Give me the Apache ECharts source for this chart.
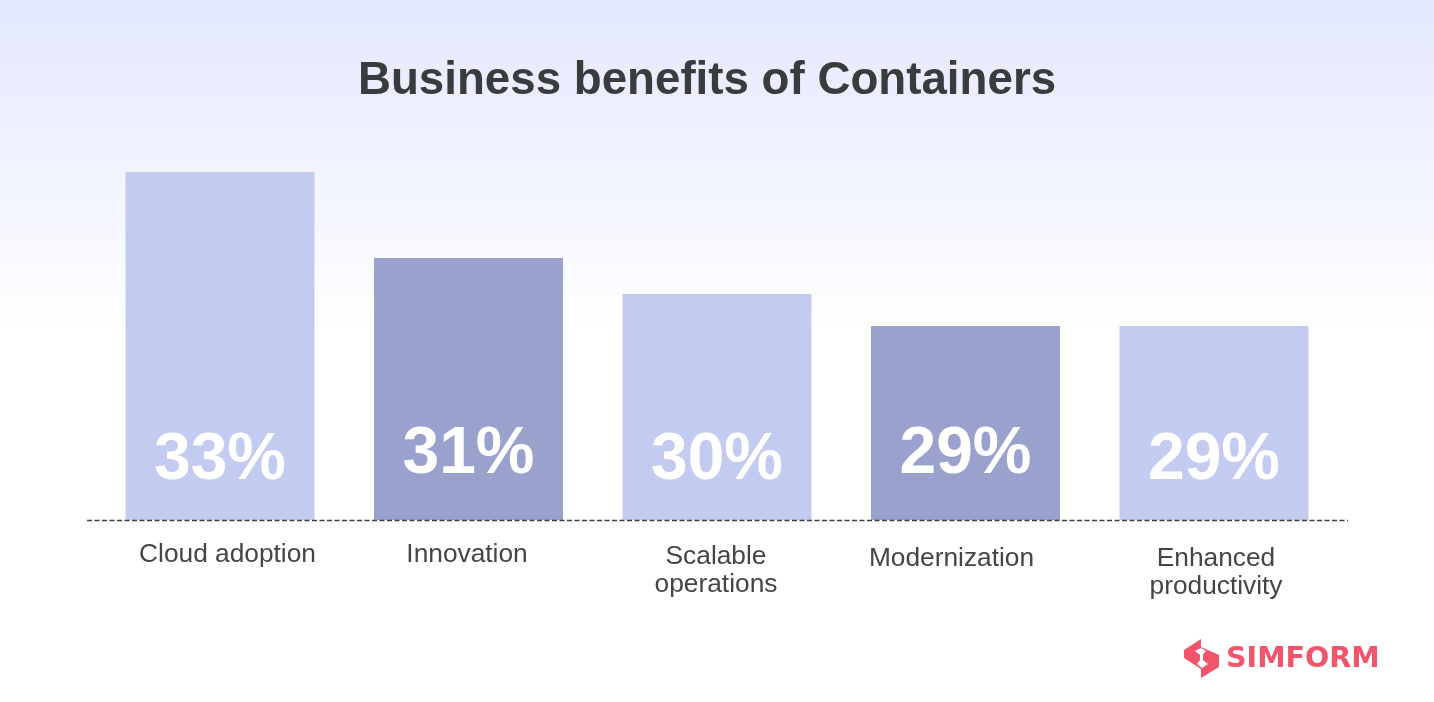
<!DOCTYPE html>
<html>
<head>
<meta charset="utf-8">
<title>Business benefits of Containers</title>
<script src="https://cdn.jsdelivr.net/npm/echarts@6/dist/echarts.min.js"></script>
<style>
html, body { margin: 0; padding: 0; background: #fff; }
#chart { width: 1434px; height: 702px; }
</style>
</head>
<body>
<div id="chart"></div>
<script>
var categories = ['Cloud adoption', 'Innovation', 'Scalable\noperations', 'Modernization', 'Enhanced\nproductivity'];
var percentLabels = ['33%', '31%', '30%', '29%', '29%'];
// the bars in the picture are not proportional to their percentages, so heights are read separately
var barHeights = [348, 262, 226, 194, 194];
var barColors = ['#c3cbf0', '#99a1cc', '#c3cbf0', '#99a1cc', '#c3cbf0'];
var labelOffsets = [0, 6, 0, 6, 0];
var categoryPadding = [[6, 0, 0, 15], [6, 3, 0, 0], [8, 2, 0, 0], [10, 28, 0, 0], [10, 0, 0, 4]];

var chart = echarts.init(document.getElementById('chart'));

var option = {
    animation: false,
    backgroundColor: {
        type: 'linear', x: 0, y: 0, x2: 0, y2: 1,
        colorStops: [
            { offset: 0, color: '#e3e8fd' },
            { offset: 0.22, color: '#f0f2fe' },
            { offset: 0.47, color: '#ffffff' },
            { offset: 1, color: '#ffffff' }
        ]
    },
    title: {
        text: 'Business benefits of Containers',
        left: 702,
        top: 53,
        textAlign: 'center',
        textStyle: { fontFamily: 'Liberation Sans', fontSize: 45.7, fontWeight: 700, color: '#3a3b3e' }
    },
    grid: { left: 95.75, width: 1242.5, top: 172, height: 348 },
    xAxis: {
        type: 'category',
        data: categories.map(function (c, i) {
            return {
                value: c,
                textStyle: { padding: categoryPadding[i] }
            };
        }),
        axisLine: { show: false },
        axisTick: { show: false },
        axisLabel: {
            interval: 0,
            margin: 15,
            fontFamily: 'Liberation Sans',
            fontSize: 26.3,
            lineHeight: 28,
            color: '#444548'
        }
    },
    yAxis: { type: 'value', min: 0, max: 348, show: false },
    series: [{
        type: 'bar',
        barWidth: 189,
        data: barHeights.map(function (h, i) {
            return {
                value: h,
                itemStyle: { color: barColors[i] },
                label: { offset: [0, -labelOffsets[i]], formatter: percentLabels[i] }
            };
        }),
        label: {
            show: true,
            position: 'insideBottom',
            distance: 26,
            fontFamily: 'Liberation Sans',
            fontSize: 66,
            fontWeight: 700,
            color: '#ffffff'
        }
    }],
    graphic: [
        {
            type: 'line',
            z: 10,
            shape: { x1: 87, y1: 520.5, x2: 1348, y2: 520.5 },
            style: { stroke: '#3f4044', lineWidth: 1.5, lineDash: [5, 2.5] }
        },
        {
            type: 'polygon',
            shape: { points: [[1184, 650], [1201, 639], [1201, 647], [1219, 655], [1219, 667], [1201, 678], [1201, 669], [1184, 658]] },
            style: { fill: '#f2556b' }
        },
        {
            type: 'polygon',
            shape: { points: [[1195, 651], [1201, 648], [1206, 651], [1203, 654.5], [1203, 660], [1208, 664], [1202, 668], [1197, 664], [1200, 660], [1200, 655]] },
            style: { fill: '#ffffff' }
        },
        {
            type: 'text',
            style: {
                x: 1226, y: 660,
                text: 'SIMFORM',
                verticalAlign: 'middle',
                fontFamily: 'DejaVu Sans',
                fontSize: 28.5,
                fontWeight: 700,
                fill: '#f2556b'
            }
        }
    ]
};
chart.setOption(option);

window.addEventListener('resize', chart.resize);
</script>
</body>
</html>
